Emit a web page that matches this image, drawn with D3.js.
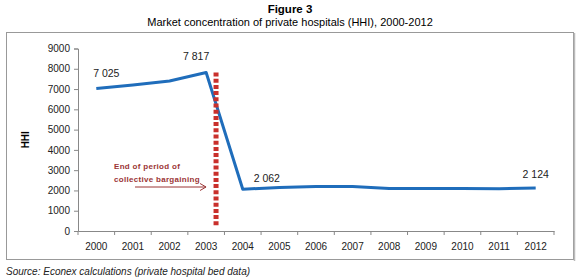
<!DOCTYPE html>
<html lang="en">
<head>
<meta charset="UTF-8">
<title>Market concentration of private hospitals (HHI)</title>
<script src="https://d3js.org/d3.v7.min.js"></script>
<style>
  body { margin: 0; background: #fff; font-family: "Liberation Sans", Arial, sans-serif; }
  svg { display: block; }
  .tick text { font-size: 10px; fill: #222; }
  .axis path, .axis line { stroke: #888; }
</style>
</head>
<body>
<svg id="chart" width="580" height="280"></svg>
<script>
const years = ['2000','2001','2002','2003','2004','2005','2006','2007','2008','2009','2010','2011','2012'];
const hhi = [7025, 7200, 7400, 7817, 2062, 2150, 2200, 2200, 2100, 2100, 2100, 2080, 2124];
const yTicks = [0, 1000, 2000, 3000, 4000, 5000, 6000, 7000, 8000, 9000];
const labelled = ['2000', '2003', '2004', '2012'];
const cutYear = 3.27; // position (in years after 2000) of the bargaining line

const svg = d3.select('#chart');
const margin = {left: 78, right: 26, top: 48.5, bottom: 49};
const W = 580, H = 280;

// titles
svg.append('text').attr('x', 290).attr('y', 13).attr('text-anchor', 'middle')
  .attr('font-size', 11.5).attr('font-weight', 'bold').text('Figure 3');
svg.append('text').attr('x', 290).attr('y', 26).attr('text-anchor', 'middle')
  .attr('font-size', 11).text('Market concentration of private hospitals (HHI), 2000-2012');

// frame
svg.append('rect').attr('x', 6.5).attr('y', 32.5).attr('width', 567).attr('height', 227)
  .attr('fill', 'none').attr('stroke', '#999').attr('stroke-width', 1);
svg.append('line').attr('x1', 574.5).attr('x2', 574.5).attr('y1', 33).attr('y2', 261)
  .attr('stroke', '#bbb').attr('stroke-width', 1.5);

const x = d3.scaleBand().domain(years).range([margin.left, W - margin.right]);
const xLin = d3.scaleLinear().domain([0, years.length - 1])
  .range([margin.left + x.bandwidth() / 2, W - margin.right - x.bandwidth() / 2]);
const y = d3.scaleLinear().domain([0, 9000]).range([H - margin.bottom, margin.top]);

// y axis
const yAxis = svg.append('g').attr('class', 'axis')
  .attr('transform', `translate(${margin.left},0)`)
  .call(d3.axisLeft(y).tickValues(yTicks).tickFormat(d3.format('d')).tickSize(4).tickPadding(4));

// x axis with ticks on band boundaries
const xAxis = svg.append('g').attr('class', 'axis')
  .attr('transform', `translate(0,${y(0)})`)
  .call(d3.axisBottom(x).tickSize(0).tickPadding(12));
xAxis.selectAll('.boundary')
  .data(years.concat(['end']))
  .join('line')
  .attr('x1', (d, i) => margin.left + i * x.bandwidth())
  .attr('x2', (d, i) => margin.left + i * x.bandwidth())
  .attr('y1', 0).attr('y2', 4).attr('stroke', '#888');
svg.selectAll('.axis .domain').attr('stroke', '#888');

svg.append('text')
  .attr('transform', `translate(29,${y(4500)}) rotate(-90)`)
  .attr('text-anchor', 'middle').attr('font-size', 10).attr('font-weight', 'bold')
  .text('HHI');

// line
const line = d3.line()
  .x((d, i) => x(years[i]) + x.bandwidth() / 2)
  .y(d => y(d));
svg.append('path').datum(hhi)
  .attr('d', line).attr('fill', 'none')
  .attr('stroke', '#1f6dbb').attr('stroke-width', 3).attr('stroke-linejoin', 'round');

// red dashed cut line
svg.append('line')
  .attr('x1', xLin(cutYear)).attr('x2', xLin(cutYear))
  .attr('y1', y(7817)).attr('y2', y(200))
  .attr('stroke', '#c9302c').attr('stroke-width', 5).attr('stroke-dasharray', '4,2.2');

// data labels
const offsets = {'2000': [10, -12], '2003': [-10, -12], '2004': [24, -7], '2012': [0, -10]};
svg.selectAll('.vlabel')
  .data(years.map((yr, i) => ({yr, v: hhi[i]})).filter(d => labelled.includes(d.yr)))
  .join('text')
  .attr('class', 'vlabel')
  .attr('x', d => x(d.yr) + x.bandwidth() / 2 + offsets[d.yr][0])
  .attr('y', d => y(d.v) + offsets[d.yr][1])
  .attr('text-anchor', 'middle').attr('font-size', 10.5).attr('fill', '#222')
  .text(d => d3.format(',')(d.v).replace(',', ' '));

// annotation
const ann = svg.append('g').attr('fill', '#9b3535').attr('font-size', 8)
  .attr('font-weight', 'bold').attr('letter-spacing', 0.3);
ann.append('text').attr('x', 114).attr('y', 169).text('End of period of');
ann.append('text').attr('x', 114).attr('y', 182).text('collective  bargaining');
const ay = 187;
const ax1 = xLin(cutYear) - 10;
svg.append('line').attr('x1', 135).attr('x2', ax1).attr('y1', ay).attr('y2', ay)
  .attr('stroke', '#9b3535').attr('stroke-width', 1);
svg.append('path')
  .attr('d', `M${ax1 - 6},${ay - 3.5} L${ax1},${ay} L${ax1 - 6},${ay + 3.5}`)
  .attr('fill', 'none').attr('stroke', '#9b3535').attr('stroke-width', 1);

// source
svg.append('text').attr('x', 6).attr('y', 275).attr('font-size', 10).attr('font-style', 'italic')
  .attr('fill', '#222').text('Source: Econex calculations (private hospital bed data)');
</script>
</body>
</html>
